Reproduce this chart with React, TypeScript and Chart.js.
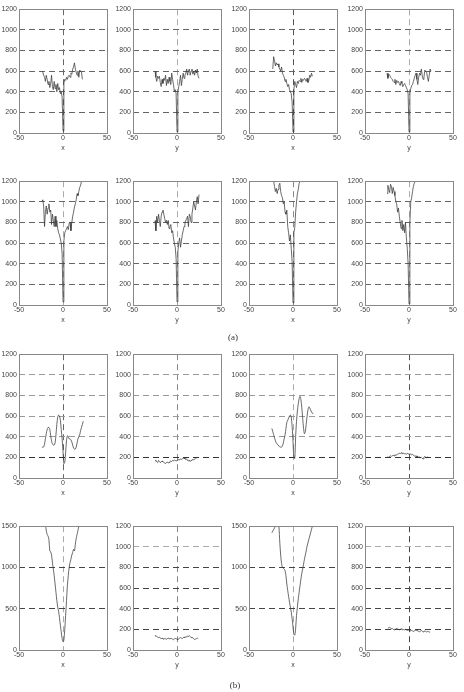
import React, { useEffect, useRef } from "react";
import { Chart, registerables } from "chart.js";
Chart.register(...registerables);

const xs = [-25,-24,-23,-22,-21,-20,-19,-18,-17,-16,-15,-14,-13,-12,-11,-10,-9,-8,-7,-6,-5,-4,-3,-2,-1,0,1,2,3,4,5,6,7,8,9,10,11,12,13,14,15,16,17,18,19,20,21,22,23,24,25];
const xTicks = [-50, 0, 50];

const p1 = [null,600,590,560,540,500,560,520,470,500,440,480,560,450,420,500,430,470,400,480,420,440,380,400,350,20,480,520,510,540,520,550,560,540,580,570,620,640,680,620,590,560,600,540,610,600,590,520,null,null,null];
const p2 = [600,540,500,550,530,550,490,450,520,480,530,510,560,460,520,480,540,500,470,580,520,470,400,420,380,10,400,450,500,560,460,520,580,530,560,580,620,560,600,620,560,600,620,570,600,560,610,580,620,550,530];
const p3 = [null,null,620,740,700,650,680,660,670,640,620,600,640,580,560,540,500,520,480,450,470,420,400,380,300,10,420,500,470,440,500,480,510,500,530,490,520,510,530,520,500,530,490,510,560,540,580,550,null,null,null];
const p4 = [580,530,570,560,540,530,520,500,490,520,470,510,490,500,480,460,500,480,450,470,480,460,440,420,380,10,380,430,460,470,500,530,560,580,520,470,540,580,560,620,560,520,540,610,600,590,540,500,560,620,600];
const p5 = [null,1000,1020,960,760,900,960,880,940,980,900,920,780,880,820,760,860,760,820,740,700,680,640,600,500,30,620,700,720,740,760,730,790,800,720,800,860,900,950,980,1020,1080,1060,1100,1140,1160,1200,1240,null,null,null];
const p6 = [820,720,860,800,880,820,760,860,900,920,880,840,800,820,780,820,740,760,780,700,720,650,600,560,450,30,520,600,650,560,620,680,720,760,800,820,840,860,760,880,860,800,880,940,1000,960,920,1000,1050,980,1070];
const p7 = [null,1260,1220,1200,1150,1100,1130,1080,1120,1160,1180,1100,1060,1040,980,1000,900,880,920,760,700,620,680,550,420,20,700,750,900,1000,1080,1120,1180,1200,1230,1260,null,null,null,null,null,null,null,null,null,null,null,null,null,null,null];
const p8 = [1080,1160,1120,1090,1170,1150,1080,1140,1100,1060,1000,980,900,940,860,800,740,820,720,780,700,800,650,550,400,10,800,1000,1040,1100,1150,1180,1200,1220,null,null,null,null,null,null,null,null,null,null,null,null,null,null,null,null,null];
const p9 = [null,295,300,300,330,380,430,470,490,490,470,410,360,330,320,320,340,420,520,590,610,600,560,470,380,260,140,150,250,360,410,400,380,380,370,350,320,290,280,280,300,340,380,400,420,460,490,520,550,null,null];
const p10 = [170,165,160,150,170,160,150,155,165,160,150,145,140,150,155,145,150,160,165,160,170,165,175,170,165,170,175,180,175,185,180,185,190,195,185,180,185,170,165,175,160,170,175,180,175,185,190,195,200,195,null];
const p11 = [null,480,450,420,390,360,340,330,320,310,300,300,300,310,340,380,420,480,540,560,580,600,610,590,500,350,200,190,400,550,650,720,770,790,760,680,580,480,430,450,520,600,660,690,680,660,640,630,620,null,null];
const p12 = [200,205,200,210,215,210,215,220,215,225,220,225,230,235,240,235,245,240,235,240,235,235,230,240,235,230,235,230,225,230,220,215,210,215,205,210,200,205,195,200,190,185,200,210,200,195,205,200,null,null,null];
const p13 = [null,null,null,null,1600,1520,1450,1400,1380,1340,1200,1190,1150,1060,980,900,800,700,600,520,470,390,300,220,140,100,120,250,420,600,780,900,1000,1060,1100,1150,1180,1220,1200,1280,1350,1400,1450,1500,1560,null,null,null,null,null,null];
const p14 = [135,140,130,125,120,125,115,110,115,110,105,110,108,105,110,115,110,108,112,110,105,100,108,112,110,105,100,110,115,120,115,110,120,125,120,130,125,135,130,140,130,120,125,115,110,100,105,110,115,110,null];
const p15 = [null,1420,1440,1460,1480,1500,1540,1600,1560,1500,1300,1150,1050,1000,990,980,960,900,800,720,650,580,520,460,380,280,190,180,260,420,520,620,700,780,860,930,980,1040,1100,1150,1200,1260,1300,1340,1380,1420,1460,1500,1540,null,null];
const p16 = [null,210,215,220,215,205,210,200,195,205,200,210,205,200,195,200,205,200,195,198,195,200,195,190,192,195,190,185,190,185,180,185,190,195,190,185,180,175,185,190,185,175,180,185,180,175,180,178,175,172,null];

const yTicks1200 = [0, 200, 400, 600, 800, 1000, 1200];
const yTicks1500 = [0, 500, 1000, 1500];

const YW = 19, PT = 6, PR = 8, XH = 22, PW = 88, PH = 124;

type Panel = {
  data: (number | null)[];
  xl: string;
  yt: number[];
  left: number;
  top: number;
  hColor: string;
  hDark: number[];
  hLight: number[];
  vColor: string;
  smooth?: boolean;
};

const colL = [19, 133, 249, 365];
const rowT = [9, 181, 354, 526];

const panels: Panel[] = [
  { data: p1, xl: "x", yt: yTicks1200, left: colL[0], top: rowT[0], hColor: "#666", hDark: [], hLight: [], vColor: "#666" },
  { data: p2, xl: "y", yt: yTicks1200, left: colL[1], top: rowT[0], hColor: "#666", hDark: [], hLight: [], vColor: "#aaa" },
  { data: p3, xl: "x", yt: yTicks1200, left: colL[2], top: rowT[0], hColor: "#666", hDark: [], hLight: [], vColor: "#555" },
  { data: p4, xl: "y", yt: yTicks1200, left: colL[3], top: rowT[0], hColor: "#666", hDark: [], hLight: [], vColor: "#aaa" },
  { data: p5, xl: "x", yt: yTicks1200, left: colL[0], top: rowT[1], hColor: "#666", hDark: [], hLight: [], vColor: "#aaa" },
  { data: p6, xl: "y", yt: yTicks1200, left: colL[1], top: rowT[1], hColor: "#666", hDark: [], hLight: [], vColor: "#aaa" },
  { data: p7, xl: "x", yt: yTicks1200, left: colL[2], top: rowT[1], hColor: "#666", hDark: [], hLight: [], vColor: "#888" },
  { data: p8, xl: "y", yt: yTicks1200, left: colL[3], top: rowT[1], hColor: "#666", hDark: [], hLight: [], vColor: "#aaa" },
  { data: p9, xl: "x", yt: yTicks1200, left: colL[0], top: rowT[2], hColor: "#999", hDark: [200], hLight: [], vColor: "#666", smooth: true },
  { data: p10, xl: "y", yt: yTicks1200, left: colL[1], top: rowT[2], hColor: "#999", hDark: [200], hLight: [], vColor: "#888" },
  { data: p11, xl: "x", yt: yTicks1200, left: colL[2], top: rowT[2], hColor: "#999", hDark: [200], hLight: [], vColor: "#aaa", smooth: true },
  { data: p12, xl: "y", yt: yTicks1200, left: colL[3], top: rowT[2], hColor: "#999", hDark: [200], hLight: [], vColor: "#555" },
  { data: p13, xl: "x", yt: yTicks1500, left: colL[0], top: rowT[3], hColor: "#444", hDark: [], hLight: [], vColor: "#aaa", smooth: true },
  { data: p14, xl: "y", yt: yTicks1200, left: colL[1], top: rowT[3], hColor: "#444", hDark: [], hLight: [1000], vColor: "#888" },
  { data: p15, xl: "x", yt: yTicks1500, left: colL[2], top: rowT[3], hColor: "#444", hDark: [], hLight: [], vColor: "#aaa", smooth: true },
  { data: p16, xl: "y", yt: yTicks1200, left: colL[3], top: rowT[3], hColor: "#444", hDark: [], hLight: [1000], vColor: "#444" },
];

const FONT = "'Liberation Sans', Arial, sans-serif";

const boxPlugin = {
  id: "box",
  afterDraw(chart: any) {
    const { ctx, chartArea } = chart;
    ctx.save();
    ctx.strokeStyle = "#888";
    ctx.lineWidth = 1;
    ctx.setLineDash([]);
    ctx.strokeRect(
      Math.round(chartArea.left) + 0.5,
      Math.round(chartArea.top) + 0.5,
      Math.round(chartArea.right - chartArea.left),
      Math.round(chartArea.bottom - chartArea.top)
    );
    ctx.restore();
  },
};

function SubPlot({ p }: { p: Panel }) {
  const ref = useRef<HTMLCanvasElement>(null);
  useEffect(() => {
    if (!ref.current) return;
    const yMax = p.yt[p.yt.length - 1];
    const chart = new Chart(ref.current, {
      type: "line",
      data: {
        datasets: [
          {
            data: xs.map((x, i) => ({ x, y: p.data[i] })) as any,
            borderColor: "#3a3a3a",
            borderWidth: 0.75,
            pointRadius: 0,
            tension: p.smooth ? 0.3 : 0,
            spanGaps: false,
          },
        ],
      },
      options: {
        animation: false,
        responsive: false,
        events: [],
        layout: { padding: { top: PT, right: PR, left: 0, bottom: 0 } },
        plugins: { legend: { display: false }, tooltip: { enabled: false } },
        scales: {
          x: {
            type: "linear",
            min: -50,
            max: 50,
            afterBuildTicks: (s: any) => {
              s.ticks = xTicks.map((v) => ({ value: v }));
            },
            afterFit: (s: any) => {
              s.height = XH;
            },
            ticks: {
              font: { family: FONT, size: 7 },
              color: "#444",
              padding: 1,
              maxRotation: 0,
              autoSkip: false,
              callback: (v: any) => String(v),
            },
            grid: {
              drawTicks: false,
              lineWidth: 1,
              color: (c: any) => (c.tick && c.tick.value === 0 ? p.vColor : "rgba(0,0,0,0)"),
            },
            border: { display: false, dash: [6, 4] },
            title: {
              display: true,
              text: p.xl,
              font: { family: FONT, size: 7 },
              color: "#444",
              padding: { top: 0, bottom: 3 },
            },
          },
          y: {
            type: "linear",
            min: 0,
            max: yMax,
            afterBuildTicks: (s: any) => {
              s.ticks = p.yt.map((v) => ({ value: v }));
            },
            afterFit: (s: any) => {
              s.width = YW;
            },
            ticks: {
              font: { family: FONT, size: 7 },
              color: "#444",
              padding: 2,
              autoSkip: false,
              callback: (v: any) => String(v),
            },
            grid: {
              drawTicks: false,
              lineWidth: 1,
              color: (c: any) => {
                const v = c.tick ? c.tick.value : -1;
                if (v === 0 || v === yMax) return "rgba(0,0,0,0)";
                if (p.hDark.includes(v)) return "#333";
                if (p.hLight.includes(v)) return "#aaa";
                return p.hColor;
              },
            },
            border: { display: false, dash: [6, 4] },
          },
        },
      },
      plugins: [boxPlugin],
    });
    return () => chart.destroy();
  }, [p]);
  return (
    <canvas
      ref={ref}
      width={YW + PW + PR}
      height={PT + PH + XH}
      style={{
        position: "absolute",
        left: p.left - YW,
        top: p.top - PT,
        width: YW + PW + PR,
        height: PT + PH + XH,
      }}
    />
  );
}

export default function App() {
  return (
    <div
      style={{
        position: "absolute",
        left: 0,
        top: 0,
        width: 464,
        height: 692,
        background: "#fff",
        overflow: "hidden",
      }}
    >
      {panels.map((p, i) => (
        <SubPlot key={i} p={p} />
      ))}
      <div
        style={{
          position: "absolute",
          left: 213,
          width: 40,
          top: 331,
          textAlign: "center",
          fontFamily: "'Liberation Serif', 'Times New Roman', serif",
          fontSize: 9,
          lineHeight: "12px",
          color: "#333",
        }}
      >
        (a)
      </div>
      <div
        style={{
          position: "absolute",
          left: 215,
          width: 40,
          top: 679,
          textAlign: "center",
          fontFamily: "'Liberation Serif', 'Times New Roman', serif",
          fontSize: 9,
          lineHeight: "12px",
          color: "#333",
        }}
      >
        (b)
      </div>
    </div>
  );
}
